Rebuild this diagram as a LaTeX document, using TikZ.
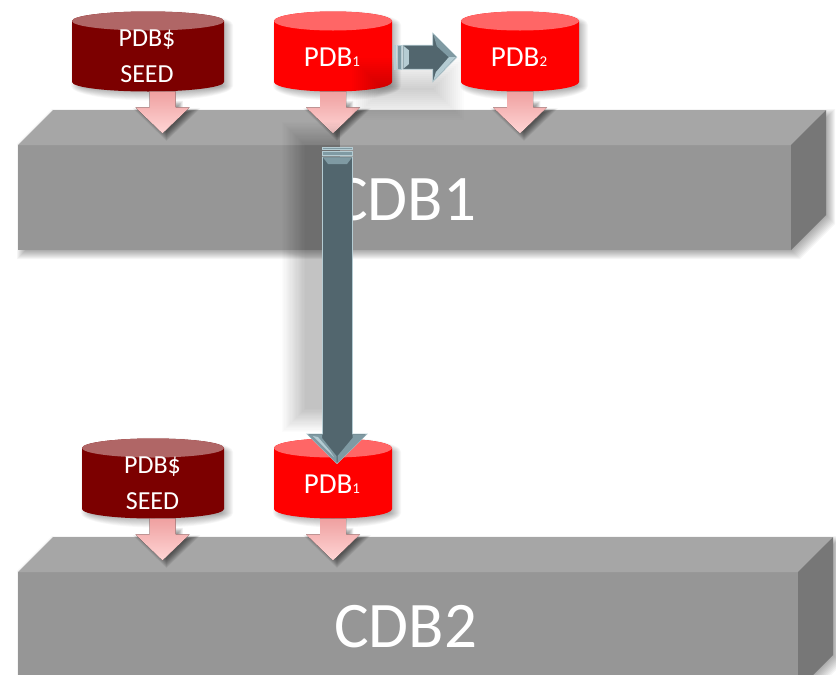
\documentclass[tikz,border=0pt]{standalone}
\usepackage{fontspec}
\setmainfont{Carlito}
\usetikzlibrary{calc}
\definecolor{teal0}{HTML}{52666E}
\definecolor{teall}{HTML}{B5CCD3}
\definecolor{tealm}{HTML}{7F9AA3}
\definecolor{boxtop}{HTML}{A6A6A6}
\definecolor{boxfront}{HTML}{969696}
\definecolor{boxside}{HTML}{777777}
\definecolor{redtop}{HTML}{FF6666}
\definecolor{seedbody}{HTML}{7C0000}
\definecolor{seedtop}{HTML}{B06666}
\definecolor{arrowtop}{HTML}{EFA0A0}
\definecolor{arrowbot}{HTML}{FFD6D6}
\tikzset{
  x=1pt,y=-1pt,
  lblpdb/.style={text=white,font=\fontsize{29}{32}\selectfont,inner sep=0pt},
  lblseed/.style={text=white,font=\fontsize{26}{32}\selectfont,align=center,inner sep=0pt},
  big/.style={text=white,font=\fontsize{65}{70}\selectfont,inner sep=0pt},
  blockarrow/.style={fill=teal0,draw=teall,line width=0.7pt,line join=miter},
  stripe/.style={fill=tealm,draw=teall,line width=0.7pt},
}
\newcommand{\smalld}[1]{{\fontsize{15}{15}\selectfont #1}}
% cylinder: name, cx, top y, half width, body colour, top colour
\newcommand{\cyl}[6]{
  \foreach \d in {-6,...,5}{
    \fill[black,fill opacity=0.03,shift={(4,4)}] (#2-#4-\d*1,#3+9) -- (#2-#4-\d*1,#3+70)
      arc[start angle=180,end angle=360,x radius={(#4+\d)*1pt},y radius={(9.5+\d)*1pt}]
      -- (#2+#4+\d*1,#3+9) arc[start angle=0,end angle=180,x radius={(#4+\d)*1pt},y radius={(9.5+\d)*1pt}] -- cycle;
  }
  \fill[#5] (#2-#4,#3+9) -- (#2-#4,#3+70) arc[start angle=180,end angle=360,x radius=#4pt,y radius=9.5pt]
     -- (#2+#4,#3+9) arc[start angle=0,end angle=180,x radius=#4pt,y radius=9.5pt] -- cycle;
  \fill[#6] (#2,#3+9) ellipse[x radius=#4pt,y radius=9.5pt];
  \node[anchor=north,inner sep=0pt,minimum width=2*#4 pt,minimum height=79pt] (#1) at (#2,#3) {};
}
% pink arrow hanging from a cylinder's south anchor: node, x offset
\newcommand{\pink}[2]{
  \begin{scope}[shift={($(#1.south)+(#2,0)$)}]
    \foreach \s in {0.75,0.8,...,1.26}{
      \fill[black,fill opacity=0.055,shift={(4,3)},scale around={\s:(0,24)}]
        (-13,10) -- (13,10) -- (13,16) -- (27,16) -- (0,42) -- (-27,16) -- (-13,16) -- cycle;
    }
    \fill[top color=arrowtop,bottom color=arrowbot] (-13,0) -- (13,0) -- (13,16) -- (27,16) -- (0,42) -- (-27,16) -- (-13,16) -- cycle;
  \end{scope}
}
% 3-D box: name,x0,x1,y0,y1,depth dx, depth dy
\newcommand{\slab}[7]{
  \foreach \d in {-6,...,5}{
    \fill[black,fill opacity=0.04,shift={(4,4)}]
      (#2-\d*1,#4-\d*1) -- (#2+#6-\d*1,#4-#7-\d*1) -- (#3+#6+\d*1,#4-#7-\d*1) -- (#3+#6+\d*1,#5-#7+\d*1)
      -- (#3+\d*1,#5+\d*1) -- (#2-\d*1,#5+\d*1) -- cycle;
  }
  \fill[boxfront] (#2,#4) rectangle (#3,#5);
  \fill[boxtop] (#2,#4) -- (#2+#6,#4-#7) -- (#3+#6,#4-#7) -- (#3,#4) -- cycle;
  \fill[boxside] (#3,#4) -- (#3+#6,#4-#7) -- (#3+#6,#5-#7) -- (#3,#5) -- cycle;
  \node[inner sep=0pt,minimum width=#3pt-#2pt,minimum height=#5pt-#4pt] (#1) at ({(#2+#3)/2},{(#4+#5)/2}) {};
}
\begin{document}
\begin{tikzpicture}
\useasboundingbox (0,0) rectangle (836,675);
\begin{scope}
\clip (0,0) rectangle (836,675);
\fill[white] (0,0) rectangle (836,675);
\slab{cdbone}{18}{791}{145}{250}{35}{35}
\slab{cdbtwo}{18}{798}{572}{690}{35}{35}

\cyl{seedone}{148}{12}{76}{seedbody}{seedtop}
\cyl{pdbone}{333}{12}{59}{red}{redtop}
\cyl{seedtwo}{153}{439}{71}{seedbody}{seedtop}
\cyl{pdbthree}{333}{439}{59}{red}{redtop}

\pink{seedone}{14.5}
\pink{pdbone}{0}
\pink{seedtwo}{9.5}
\pink{pdbthree}{0}

% broad soft shadow of the horizontal arrow
\foreach \i in {0,...,15}{
  \fill[black,fill opacity=0.013] (352+\i*2,58+\i*2) rectangle (464-\i*2,120-\i*2);
}
\cyl{pdbtwo}{520}{12}{59}{red}{redtop}
\pink{pdbtwo}{0}

\node[lblseed] at ($(seedone.center)+(-1,5)$) {PDB\$\\[4pt]SEED};
\node[lblpdb] at ($(pdbone.center)+(-1,5.5)$) {PDB\smalld{1}};
\node[lblpdb] at ($(pdbtwo.center)+(-1,5.5)$) {PDB\smalld{2}};
\node[lblseed] at ($(seedtwo.center)+(-0.5,5)$) {PDB\$\\[4pt]SEED};
\node[lblpdb] at ($(pdbthree.center)+(-1,5.5)$) {PDB\smalld{1}};

\node[big] at ($(cdbone.center)+(0,2)$) {CDB1};
\node[big] at (405.5,627) {CDB2};

% broad soft shadow of the vertical arrow
\foreach \i in {0,...,19}{
  \fill[black,fill opacity=0.0125] (282+\i*1.2,122+\i*1.2) rectangle (340,432-\i*1.2);
}

% horizontal block arrow, placed from the node PDB2
\begin{scope}[shift={($(pdbtwo.west)-(461,51.5)$)}]
  \path[stripe] (394.5,45) rectangle (396,69) (397.5,45) rectangle (401.5,69);
  \path[blockarrow] (403,45) -- (433,45) -- (433,33) -- (457,57) -- (433,81.5) -- (433,69) -- (403,69) -- cycle;
  \fill[teall] (403.5,45.5) -- (409,50) -- (409,64) -- (403.5,68.5) -- cycle;
  \fill[tealm] (433.5,34) -- (456,57) -- (449,57) -- (437,46) -- cycle;
  \fill[teall] (433.5,80.5) -- (456,57) -- (449,57) -- (436,72) -- cycle;
\end{scope}

% vertical block arrow, placed from the node PDB1 of CDB2
\begin{scope}[shift={($(pdbthree.north)-(333,439)$)}]
  \path[stripe] (322.5,147) rectangle (352.5,149) (322.5,151) rectangle (352.5,155);
  \path[blockarrow] (322.5,157) -- (352.5,157) -- (352.5,434) -- (367,434) -- (337,463.5) -- (307,434) -- (322.5,434) -- cycle;
  \fill[tealm] (323,157.5) -- (352,157.5) -- (347,164) -- (328,164) -- cycle;
  \fill[tealm] (307.5,434.5) -- (336.5,463) -- (336.5,456) -- (322,438) -- (322,434.5) -- cycle;
  \fill[teall] (313,436) -- (334,457) -- (330,451) -- (318,437) -- cycle;
  \fill[tealm] (366.5,434.5) -- (337.5,463) -- (337.5,456) -- (352.5,438) -- (352.5,434.5) -- cycle;
\end{scope}
\end{scope}
\end{tikzpicture}
\end{document}
